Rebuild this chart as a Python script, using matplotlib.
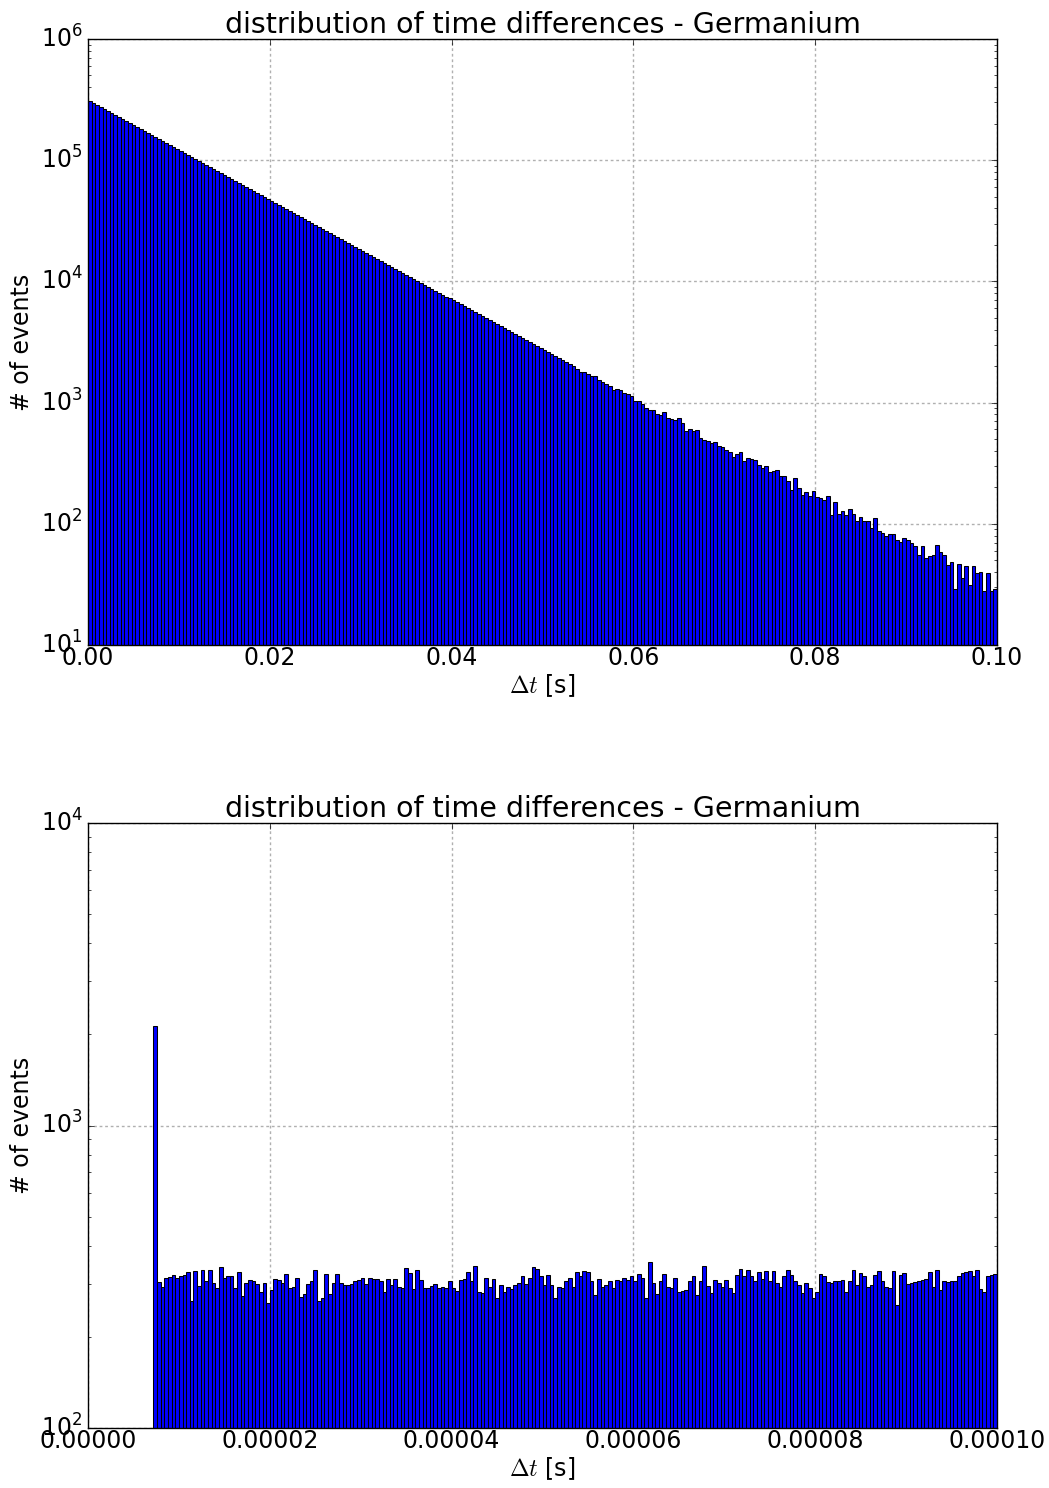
import numpy as np
import matplotlib
matplotlib.use("Agg")
import matplotlib.pyplot as plt

plt.style.use("classic")
plt.rcParams.update({
    "font.family": ["DejaVu Sans"],
    "font.size": 17,
    "savefig.facecolor": "white",
    "figure.facecolor": "white",
})

TITLE = "distribution of time differences - Germanium"
XLABEL = r"$\Delta t$ [s]"
YLABEL = "# of events"

# Wide window: 250 bins between 0 and 0.1 s
wide_range = (0.0, 0.1)
wide_counts = [
    307000, 295600, 284600, 274000, 263800, 254000, 244600, 235500, 226700, 218300,
    210200, 202400, 194900, 187600, 180600, 173900, 167500, 161200, 155200, 149500,
    143900, 138600, 133400, 128500, 123700, 119100, 114700, 110400, 106300, 102400,
    98560, 94900, 91370, 87980, 84710, 81560, 78530, 75610, 72800, 70100,
    67490, 64980, 62570, 60240, 58000, 55850, 53770, 51770, 49850, 48000,
    46210, 44490, 42840, 41250, 39720, 38240, 36820, 35450, 34130, 32860,
    31640, 30470, 29330, 28240, 27190, 26180, 25210, 24270, 23370, 22500,
    21670, 20860, 20090, 19340, 18620, 17930, 17260, 16620, 16000, 15410,
    14840, 14280, 13750, 13240, 12750, 12280, 11820, 11380, 10960, 10550,
    10160, 9780, 9420, 9070, 8730, 8410, 8090, 7790, 7500, 7230,
    6960, 6700, 6450, 6210, 5980, 5760, 5540, 5340, 5140, 4950,
    4760, 4590, 4420, 4250, 4090, 3940, 3800, 3650, 3520, 3390,
    3260, 3140, 3020, 2910, 2800, 2700, 2600, 2500, 2410, 2320,
    2230, 2150, 2070, 1990, 1900, 1800, 1790, 1718, 1670, 1655,
    1531, 1483, 1419, 1374, 1274, 1290, 1265, 1210, 1188, 1136,
    1030, 1022, 981, 910, 875, 865, 805, 795, 837, 740,
    732, 718, 746, 682, 582, 601, 578, 590, 506, 490,
    485, 460, 475, 435, 430, 405, 390, 357, 380, 390,
    329, 351, 344, 335, 304, 286, 301, 268, 275, 278,
    250, 247, 227, 189, 239, 198, 174, 183, 169, 188,
    165, 163, 156, 169, 119, 151, 120, 127, 119, 132,
    121, 105, 114, 105, 105, 92, 111, 88, 84, 80,
    82, 82, 73, 71, 77, 73, 70, 65, 55, 65,
    52, 54, 55, 67, 58, 55, 46, 48, 29, 47,
    36, 45, 31, 45, 39, 40, 28, 39, 28, 29,
]

# Narrow window: 250 bins between 0 and 100 microseconds
narrow_range = (0.0, 1e-4)
narrow_counts = [
    0, 0, 0, 0, 0, 0, 0, 0, 0, 0,
    0, 0, 0, 0, 0, 0, 0, 0, 2135, 303,
    293, 313, 315, 321, 313, 319, 321, 329, 263, 330,
    295, 333, 305, 332, 301, 291, 340, 314, 317, 318,
    290, 329, 274, 302, 309, 306, 299, 282, 301, 258,
    286, 311, 309, 301, 323, 291, 293, 313, 272, 277,
    299, 306, 333, 262, 270, 322, 277, 301, 323, 301,
    296, 297, 299, 306, 309, 313, 299, 314, 311, 310,
    307, 282, 311, 297, 311, 293, 290, 337, 326, 288,
    333, 309, 291, 291, 295, 299, 290, 293, 291, 306,
    290, 284, 309, 311, 329, 307, 342, 281, 279, 313,
    293, 311, 269, 297, 281, 292, 289, 296, 301, 317,
    299, 314, 340, 336, 317, 297, 321, 296, 269, 293,
    290, 305, 313, 293, 329, 319, 330, 329, 305, 275,
    311, 293, 297, 307, 290, 309, 307, 313, 309, 317,
    305, 322, 314, 269, 355, 301, 277, 305, 324, 293,
    290, 314, 282, 284, 286, 306, 319, 275, 306, 344,
    295, 279, 309, 301, 292, 309, 290, 279, 321, 335,
    317, 333, 319, 306, 329, 310, 330, 306, 330, 301,
    293, 319, 333, 321, 306, 297, 279, 301, 290, 269,
    282, 322, 317, 303, 301, 305, 306, 309, 281, 305,
    333, 297, 325, 317, 293, 296, 321, 330, 306, 293,
    290, 330, 256, 321, 325, 299, 301, 303, 306, 309,
    311, 329, 293, 333, 286, 305, 303, 306, 305, 317,
    325, 329, 330, 319, 333, 288, 282, 317, 321, 322,
]


def draw_panel(ax, counts, xrange, ylim, xfmt):
    edges = np.linspace(xrange[0], xrange[1], len(counts) + 1)
    ax.hist(edges[:-1], bins=edges, weights=counts, log=True,
            color="b", edgecolor="k", linewidth=0.75)
    ax.set_xlim(*xrange)
    ax.set_ylim(*ylim)
    ax.set_title(TITLE, fontsize=20.5, pad=4)
    ax.set_xlabel(XLABEL, fontsize=17, labelpad=1)
    ax.set_ylabel(YLABEL, fontsize=17)
    ax.xaxis.set_major_formatter(plt.FormatStrFormatter(xfmt))
    ax.set_axisbelow(True)
    ax.grid(True, which="major", color="#b0b0b0", linestyle=(0, (2, 2)),
            linewidth=1.0)
    ax.tick_params(labelsize=17)
    ax.tick_params(axis="x", which="major", pad=1)


fig = plt.figure(figsize=(10.49, 14.88), dpi=100)
ax_top = fig.add_axes([88 / 1049, 1 - 645 / 1488, 909 / 1049, 606 / 1488])
ax_bot = fig.add_axes([88 / 1049, 1 - 1428 / 1488, 909 / 1049, 605 / 1488])

draw_panel(ax_top, wide_counts, wide_range, (10, 1e6), "%.2f")
draw_panel(ax_bot, narrow_counts, narrow_range, (100, 1e4), "%.5f")

fig.savefig("out.png", dpi=100)
